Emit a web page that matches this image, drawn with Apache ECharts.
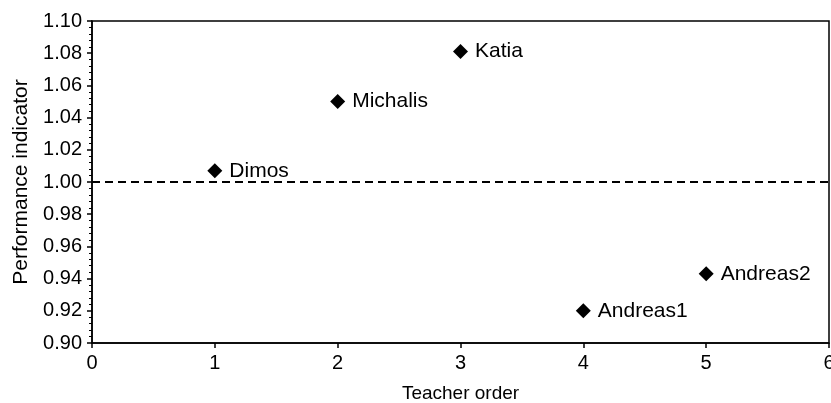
<!DOCTYPE html>
<html>
<head>
<meta charset="utf-8">
<script src="https://cdn.jsdelivr.net/npm/echarts@6/dist/echarts.min.js"></script>
<style>
html,body{margin:0;padding:0;background:#fff;}
#chart{width:831px;height:403px;}
</style>
</head>
<body>
<div id="chart"></div>
<script>
const teachers = ['Dimos', 'Michalis', 'Katia', 'Andreas1', 'Andreas2'];
const teacherOrder = [1, 2, 3, 4, 5];
const performance = [1.007, 1.050, 1.081, 0.920, 0.943];
const referenceLevel = 1.00;
const xRange = [0, 6];
const yRange = [0.90, 1.10];

const font = 'Liberation Sans, Arial, Helvetica, sans-serif';
const chart = echarts.init(document.getElementById('chart'), null, {renderer: 'canvas'});

const points = teachers.map((n, i) => ({name: n, value: [teacherOrder[i], performance[i]]}));

chart.setOption({
  animation: false,
  backgroundColor: '#fff',
  grid: {
    left: 92, right: 2, top: 21, bottom: 60,
    containLabel: false,
    outerBoundsMode: 'none',
    show: true, borderColor: '#000', borderWidth: 1.5, backgroundColor: 'transparent'
  },
  xAxis: {
    type: 'value',
    min: xRange[0], max: xRange[1], interval: 1,
    name: 'Teacher order',
    nameLocation: 'middle',
    nameGap: 41,
    nameTextStyle: {fontFamily: font, fontSize: 19, color: '#000'},
    axisLine: {show: true, onZero: false, lineStyle: {color: '#000', width: 1.5}},
    axisTick: {show: true, inside: false, length: 5, lineStyle: {color: '#000', width: 1.5}},
    axisLabel: {fontFamily: font, fontSize: 20, color: '#000', margin: 10},
    splitLine: {show: false}
  },
  yAxis: {
    type: 'value',
    min: yRange[0], max: yRange[1], interval: 0.02,
    name: 'Performance indicator',
    nameLocation: 'middle',
    nameGap: 58,
    nameRotate: 90,
    nameTextStyle: {fontFamily: font, fontSize: 21, color: '#000'},
    axisLine: {show: true, onZero: false, lineStyle: {color: '#000', width: 1.5}},
    axisTick: {show: true, inside: false, length: 5, lineStyle: {color: '#000', width: 1.5}},
    minorTick: {show: true, splitNumber: 5, length: 3, lineStyle: {color: '#000', width: 1}},
    axisLabel: {fontFamily: font, fontSize: 20, color: '#000', margin: 10,
      formatter: v => v.toFixed(2)},
    splitLine: {show: false}
  },
  series: [
    {
      type: 'line',
      data: [[xRange[0], referenceLevel], [xRange[1], referenceLevel]],
      symbol: 'none',
      lineStyle: {color: '#000', width: 2, type: [8, 5]},
      silent: true,
      z: 1
    },
    {
      type: 'scatter',
      data: points,
      symbol: 'diamond',
      symbolSize: [15, 15],
      itemStyle: {color: '#000', opacity: 1},
      label: {
        show: true,
        position: 'right',
        distance: 7,
        formatter: p => p.name,
        fontFamily: font,
        fontSize: 21,
        color: '#000'
      },
      z: 3
    }
  ]
});
</script>
</body>
</html>
